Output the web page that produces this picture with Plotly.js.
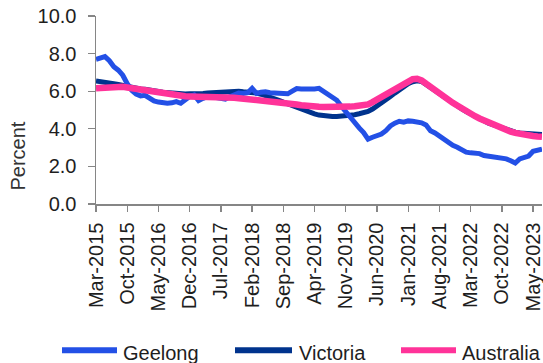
<!DOCTYPE html>
<html>
<head>
<meta charset="utf-8">
<script src="https://cdn.plot.ly/plotly-3.0.1.min.js"></script>
<style>
  html, body { margin: 0; padding: 0; background: #ffffff; }
  #chart { width: 543px; height: 363px; }
</style>
</head>
<body>
<div id="chart"></div>
<script>
// Monthly unemployment rate (per cent), Mar-2015 to Jul-2023
const startYear = 2015;
const startMonth = 2; // March (0-based)
const monthNames = ['Jan','Feb','Mar','Apr','May','Jun','Jul','Aug','Sep','Oct','Nov','Dec'];

const geelong = [
  7.70, 7.78, 7.84, 7.62, 7.30, 7.12, 6.85, 6.40, 6.05, 5.85,
  5.75, 5.78, 5.62, 5.48, 5.42, 5.38, 5.36, 5.38, 5.45, 5.36,
  5.55, 5.72, 5.80, 5.50, 5.62, 5.72, 5.70, 5.66, 5.62, 5.58,
  5.70, 5.82, 5.90, 5.88, 5.92, 6.15, 5.88, 5.95, 5.97, 5.92,
  5.90, 5.90, 5.86, 5.86, 6.00, 6.14, 6.12, 6.10, 6.08, 6.12,
  6.15, 6.00, 5.88, 5.70, 5.52, 5.20, 4.90, 4.56, 4.25, 4.05,
  3.80, 3.45, 3.55, 3.65, 3.72, 3.90, 4.15, 4.30, 4.40, 4.35,
  4.42, 4.40, 4.36, 4.32, 4.20, 3.90, 3.78, 3.62, 3.40, 3.25,
  3.12, 3.02, 2.90, 2.76, 2.72, 2.70, 2.68, 2.58, 2.55, 2.52,
  2.50, 2.45, 2.40, 2.30, 2.18, 2.40, 2.45, 2.55, 2.80, 2.88,
  2.92
];

const victoria = [
  6.54, 6.52, 6.48, 6.45, 6.40, 6.36, 6.30, 6.24, 6.20, 6.16,
  6.12, 6.10, 6.08, 6.02, 5.98, 5.95, 5.92, 5.90, 5.88, 5.86,
  5.85, 5.86, 5.85, 5.86, 5.88, 5.90, 5.92, 5.94, 5.96, 5.98,
  6.00, 6.03, 6.00, 5.97, 5.96, 5.94, 5.90, 5.84, 5.77, 5.68,
  5.60, 5.52, 5.42, 5.32, 5.22, 5.12, 5.03, 4.95, 4.86, 4.79,
  4.73, 4.69, 4.66, 4.65, 4.65, 4.66, 4.68, 4.71, 4.75, 4.80,
  4.85, 4.92, 5.05, 5.20, 5.38, 5.55, 5.72, 5.90, 6.08, 6.26,
  6.40, 6.50, 6.55, 6.52, 6.36, 6.18, 5.98, 5.80, 5.64, 5.49,
  5.35, 5.21, 5.06, 4.92, 4.78, 4.64, 4.52, 4.42, 4.30, 4.22,
  4.12, 4.02, 3.94, 3.88, 3.82, 3.78, 3.76, 3.74, 3.72, 3.71,
  3.70
];

const australia = [
  6.15, 6.17, 6.18, 6.20, 6.21, 6.22, 6.23, 6.20, 6.16, 6.12,
  6.07, 6.03, 6.00, 5.97, 5.93, 5.88, 5.84, 5.80, 5.77, 5.75,
  5.73, 5.72, 5.72, 5.71, 5.71, 5.71, 5.71, 5.70, 5.70, 5.69,
  5.67, 5.65, 5.63, 5.61, 5.59, 5.57, 5.55, 5.53, 5.50, 5.48,
  5.45, 5.43, 5.40, 5.37, 5.33, 5.29, 5.25, 5.21, 5.19, 5.18,
  5.17, 5.16, 5.15, 5.15, 5.15, 5.16, 5.17, 5.18, 5.20, 5.23,
  5.25, 5.30, 5.42, 5.56, 5.70, 5.85, 6.00, 6.14, 6.28, 6.42,
  6.54, 6.64, 6.66, 6.58, 6.40, 6.22, 6.02, 5.85, 5.68, 5.52,
  5.38, 5.24, 5.08, 4.94, 4.80, 4.67, 4.55, 4.44, 4.32, 4.24,
  4.12, 4.02, 3.92, 3.85, 3.78, 3.72, 3.68, 3.64, 3.62, 3.59,
  3.57
];

const tickLabels = [
  'Mar-2015', 'Oct-2015', 'May-2016', 'Dec-2016', 'Jul-2017',
  'Feb-2018', 'Sep-2018', 'Apr-2019', 'Nov-2019', 'Jun-2020',
  'Jan-2021', 'Aug-2021', 'Mar-2022', 'Oct-2022', 'May-2023'
];
const tickStep = 7; // months between labelled ticks

const seriesNames = ['Geelong', 'Victoria', 'Australia'];
const seriesColors = ['#2350e6', '#00338d', '#ff3399'];

// month index along the x axis
const months = geelong.map((_, i) => i);
const monthText = months.map(i => {
  const m = startMonth + i;
  return monthNames[m % 12] + '-' + (startYear + Math.floor(m / 12));
});

const font = 'Liberation Sans, Arial, sans-serif';
const textColor = '#1e1e1e';
const axisGrey = '#868686';

function lineTrace(name, values, color, width) {
  return {
    type: 'scatter', mode: 'lines', name: name,
    x: months, y: values, text: monthText,
    line: { color: color, width: width, shape: 'linear' },
    hovertemplate: '%{text}: %{y:.1f}%<extra>' + name + '</extra>'
  };
}

const traces = [
  lineTrace(seriesNames[1], victoria, seriesColors[1], 5),
  lineTrace(seriesNames[0], geelong, seriesColors[0], 5),
  lineTrace(seriesNames[2], australia, seriesColors[2], 6.5)
];

// bottom key: a short line segment followed by the series name
const plotLeft = 96, plotW = 446, plotBottom = 204, plotH = 188;
const px = v => (v - plotLeft) / plotW;
const py = v => (plotBottom - v) / plotH;
const keyItems = [
  { name: seriesNames[0], color: seriesColors[0], x0: 62, x1: 117, tx: 121 },
  { name: seriesNames[1], color: seriesColors[1], x0: 235, x1: 292, tx: 297 },
  { name: seriesNames[2], color: seriesColors[2], x0: 401, x1: 456, tx: 460 }
];
const keyLineY = 350.3, keyTextY = 352.5;

const shapes = keyItems.map(k => ({
  type: 'line', xref: 'paper', yref: 'paper',
  x0: px(k.x0), x1: px(k.x1), y0: py(keyLineY), y1: py(keyLineY),
  line: { color: k.color, width: 6 }
}));

const annotations = keyItems.map(k => ({
  xref: 'paper', yref: 'paper', x: px(k.tx), y: py(keyTextY),
  xanchor: 'left', yanchor: 'middle', showarrow: false,
  text: k.name, font: { family: font, size: 20, color: textColor }
}));

annotations.push({
  xref: 'paper', yref: 'paper', x: px(17.5), y: py(156),
  xanchor: 'center', yanchor: 'middle', showarrow: false,
  textangle: -90, text: 'Percent',
  font: { family: font, size: 20, color: '#333333' }
});

const layout = {
  width: 543, height: 363,
  margin: { l: 96, r: 1, t: 16, b: 159, pad: 0 },
  paper_bgcolor: '#ffffff', plot_bgcolor: '#ffffff',
  showlegend: false,
  font: { family: font, size: 20, color: textColor },
  xaxis: {
    range: [0, 100],
    tickmode: 'array',
    tickvals: tickLabels.map((_, i) => i * tickStep),
    ticktext: tickLabels,
    tickangle: -90,
    ticks: 'outside', ticklen: 6, tickwidth: 1.3, tickcolor: axisGrey,
    showline: true, linecolor: axisGrey, linewidth: 1.5,
    showgrid: false, zeroline: false,
    tickfont: { family: font, size: 20, color: textColor },
    ticklabelstandoff: 3,
    ticklabeloverflow: 'allow'
  },
  yaxis: {
    range: [0, 10],
    tickmode: 'linear', tick0: 0, dtick: 2,
    tickformat: '.1f',
    ticks: 'outside', ticklen: 7, tickwidth: 1.3, tickcolor: axisGrey,
    showline: true, linecolor: axisGrey, linewidth: 1.5,
    showgrid: false, zeroline: false,
    tickfont: { family: font, size: 20, color: textColor },
    ticklabelstandoff: 7
  },
  shapes: shapes,
  annotations: annotations
};

Plotly.newPlot('chart', traces, layout, { displayModeBar: false, staticPlot: true });
</script>
</body>
</html>
